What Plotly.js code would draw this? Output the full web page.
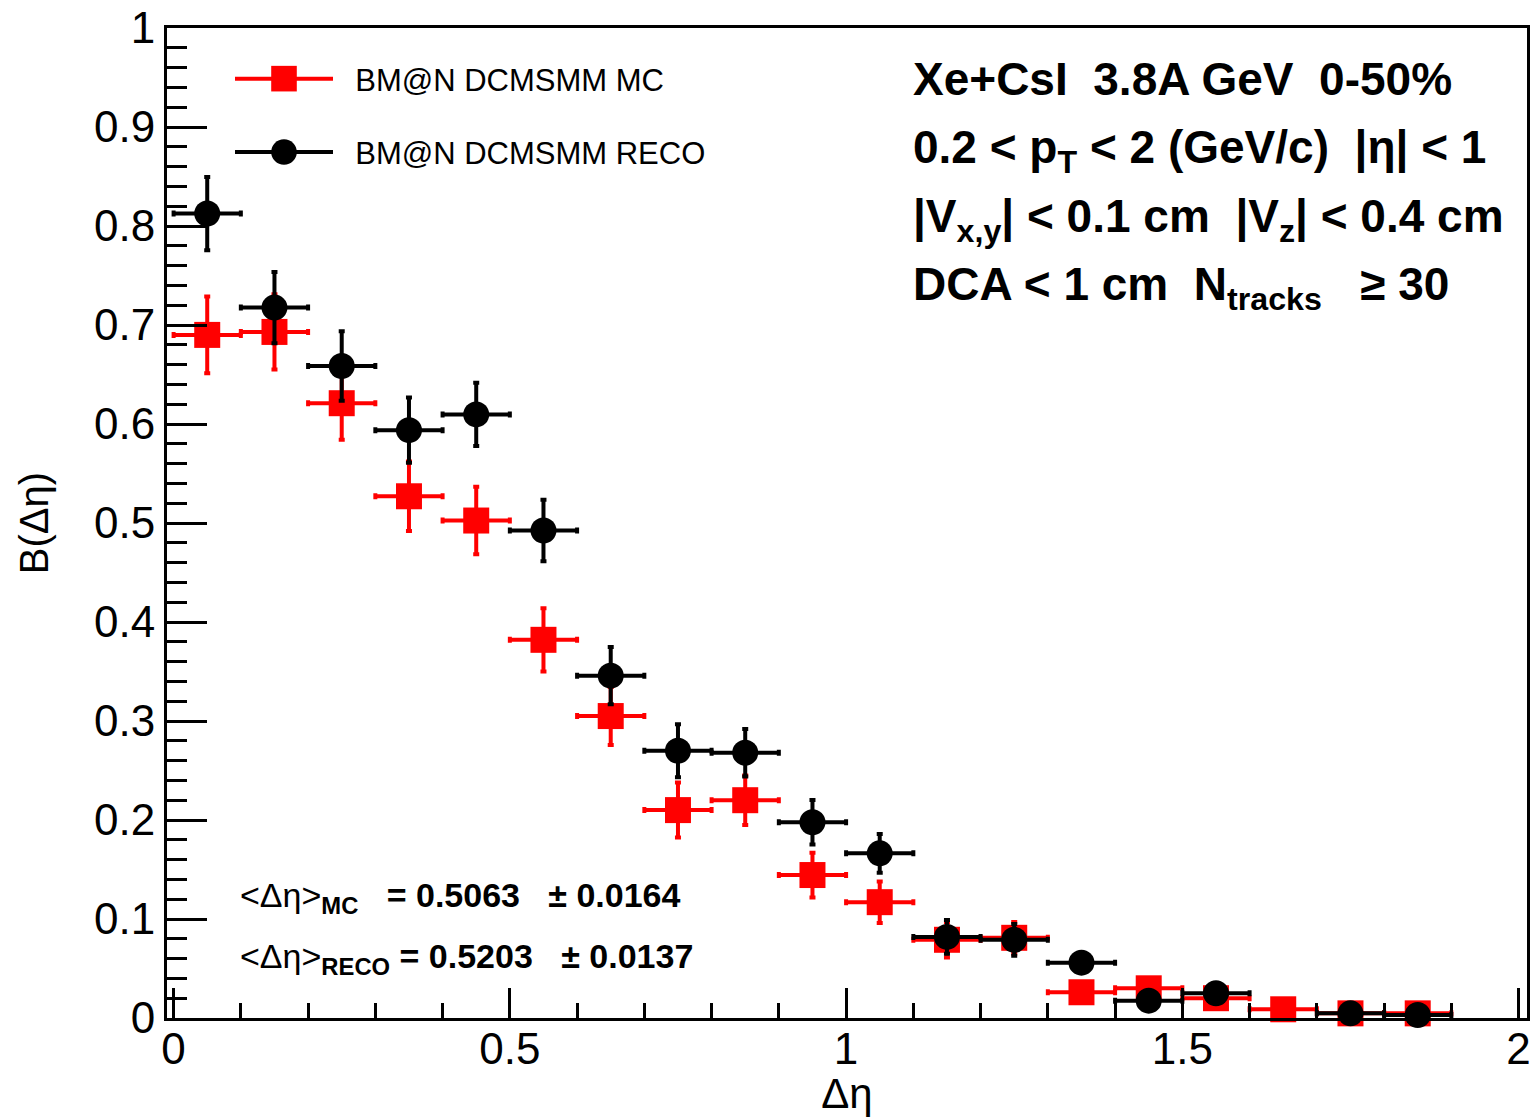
<!DOCTYPE html>
<html>
<head>
<meta charset="utf-8">
<script src="https://cdn.plot.ly/plotly-3.0.1.min.js"></script>
<style>
  html, body { margin: 0; padding: 0; background: #ffffff; }
  #chart { width: 1532px; height: 1117px; }
</style>
</head>
<body>
<div id="chart"></div>
<script>
// ---- data (bin centres, bin half-width, values, errors) ----
const binCenters = [0.05, 0.15, 0.25, 0.35, 0.45, 0.55, 0.65, 0.75, 0.85, 0.95,
                    1.05, 1.15, 1.25, 1.35, 1.45, 1.55, 1.65, 1.75, 1.85];
const binHalfWidth = 0.05;

const mcValues = [0.690, 0.693, 0.621, 0.527, 0.5025, 0.382, 0.305, 0.210, 0.220, 0.1444,
                  0.117, 0.079, 0.081, 0.026, 0.030, 0.020, 0.0088, 0.0047, 0.0047];
const mcErrors = [0.0387, 0.038, 0.037, 0.035, 0.034, 0.032, 0.0293, 0.0278, 0.025, 0.0226,
                  0.021, 0.018, 0.016, 0.008, 0.007, 0.006, 0.004, 0.003, 0.003];

const recoValues = [0.8126, 0.7176, 0.6586, 0.5938, 0.6097, 0.4924, 0.3458, 0.270, 0.268, 0.1977,
                    0.1663, 0.0819, 0.079, 0.0559, 0.0175, 0.025, null, 0.0047, 0.003];
const recoErrors = [0.037, 0.036, 0.035, 0.033, 0.032, 0.031, 0.029, 0.0268, 0.024, 0.0225,
                    0.0196, 0.017, 0.016, 0.009, 0.006, 0.006, null, 0.003, 0.002];

const seriesNames = ['BM@N DCMSMM MC', 'BM@N DCMSMM RECO'];

const xTickVals = [0, 0.5, 1, 1.5, 2];
const xTickText = ['0', '0.5', '1', '1.5', '2'];
const yTickVals = [0, 0.1, 0.2, 0.3, 0.4, 0.5, 0.6, 0.7, 0.8, 0.9, 1];
const yTickText = ['0', '0.1', '0.2', '0.3', '0.4', '0.5', '0.6', '0.7', '0.8', '0.9', '1'];

const infoLines = [
  'Xe+CsI\u00A0\u00A03.8A GeV\u00A0\u00A00-50%',
  '0.2 < p<sub>T</sub> < 2 (GeV/c)\u00A0\u00A0|η| < 1',
  '|V<sub>x,y</sub>| < 0.1 cm\u00A0\u00A0|V<sub>z</sub>| < 0.4 cm',
  'DCA < 1 cm\u00A0\u00A0N<sub>tracks</sub>\u00A0\u00A0\u00A0≥ 30'
];
const meanLines = [
  '<Δη><sub><b>MC</b></sub>\u00A0\u00A0\u00A0<b>= 0.5063\u00A0\u00A0\u00A0± 0.0164</b>',
  '<Δη><sub><b>RECO</b></sub><b> = 0.5203\u00A0\u00A0\u00A0± 0.0137</b>'
];

// ---- styling ----
const FONT = '"Liberation Sans", Arial, Helvetica, sans-serif';
const RED = '#ff0000';
const BLACK = '#000000';

function dataTrace(y, err, color, symbol, group) {
  return {
    type: 'scatter', mode: 'markers',
    x: binCenters, y: y,
    legendgroup: group, showlegend: false,
    marker: { symbol: symbol, size: 26, color: color, line: { width: 0 } },
    error_x: { type: 'constant', value: binHalfWidth, color: color, thickness: 4, width: 3 },
    error_y: { type: 'data', array: err, color: color, thickness: 4, width: 3 },
    cliponaxis: false,
    hoverinfo: 'x+y'
  };
}
function legendTrace(name, color, symbol, group) {
  return {
    type: 'scatter', mode: 'lines+markers',
    x: [null], y: [null], name: '\u00A0\u00A0' + name,
    legendgroup: group, showlegend: true,
    line: { color: color, width: 4 },
    marker: { symbol: symbol, size: 26, color: color, line: { width: 0 } }
  };
}

const traces = [
  dataTrace(mcValues, mcErrors, RED, 'square', 'mc'),
  dataTrace(recoValues, recoErrors, BLACK, 'circle', 'reco'),
  legendTrace(seriesNames[0], RED, 'square', 'mc'),
  legendTrace(seriesNames[1], BLACK, 'circle', 'reco')
];

const PL = 167, PR = 5, PT = 28, PB = 99, W = 1532, H = 1117;
const pw = W - PL - PR, ph = H - PT - PB;
function px(xpix) { return (xpix - PL) / pw; }
function py(ypix) { return (H - PB - ypix) / ph; }

const annotations = [];
const infoY = [79, 150, 219, 287];
infoLines.forEach((t, i) => {
  annotations.push({
    xref: 'paper', yref: 'paper', x: px(911), y: py(infoY[i]),
    xanchor: 'left', yanchor: 'middle', showarrow: false,
    text: '<b>' + t + '</b>',
    font: { family: FONT, size: 46, color: BLACK }
  });
});
const meanY = [897, 958];
meanLines.forEach((t, i) => {
  annotations.push({
    xref: 'paper', yref: 'paper', x: px(238), y: py(meanY[i]),
    xanchor: 'left', yanchor: 'middle', showarrow: false,
    text: t,
    font: { family: FONT, size: 34, color: BLACK }
  });
});

const axisCommon = {
  showline: true, linewidth: 3, linecolor: BLACK, mirror: true,
  showgrid: false, zeroline: false,
  ticks: 'inside', tickcolor: BLACK, tickwidth: 3,
  tickmode: 'array',
  tickfont: { family: FONT, size: 44, color: BLACK }
};

const layout = {
  width: W, height: H,
  margin: { l: PL, r: PR, t: PT, b: PB, pad: 0 },
  paper_bgcolor: '#ffffff', plot_bgcolor: '#ffffff',
  font: { family: FONT, color: BLACK },
  showlegend: true,
  legend: {
    x: px(230), y: py(52), xanchor: 'left', yanchor: 'top',
    bgcolor: 'rgba(0,0,0,0)', borderwidth: 0,
    font: { family: FONT, size: 31, color: BLACK },
    itemwidth: 98, traceorder: 'grouped', tracegroupgap: 30,
    itemclick: false, itemdoubleclick: false
  },
  xaxis: Object.assign({}, axisCommon, {
    range: [-0.0098, 2.0125],
    tickvals: xTickVals, ticktext: xTickText, ticklen: 30,
    ticklabelstandoff: -10,
    minor: { tickmode: 'linear', tick0: 0, dtick: 0.1, ticks: 'inside', ticklen: 15, tickwidth: 3, tickcolor: BLACK, showgrid: false },
    title: { text: 'Δη', font: { family: FONT, size: 42, color: BLACK }, standoff: 6 }
  }),
  yaxis: Object.assign({}, axisCommon, {
    range: [0, 1],
    tickvals: yTickVals, ticktext: yTickText, ticklen: 40,
    ticklabelstandoff: 0,
    minor: { tickmode: 'linear', tick0: 0, dtick: 0.02, ticks: 'inside', ticklen: 20, tickwidth: 3, tickcolor: BLACK, showgrid: false },
    title: { text: 'B(Δη)', font: { family: FONT, size: 40, color: BLACK }, standoff: 34 }
  }),
  annotations: annotations
};

Plotly.newPlot('chart', traces, layout, { displayModeBar: false, staticPlot: true }).then(function (gd) {
  // enlarge legend symbols to match the marker size used in the plot
  gd.querySelectorAll('.legend .legendpoints path.scatterpts').forEach(function (p) {
    p.setAttribute('transform', (p.getAttribute('transform') || '') + ' scale(1.6)');
  });
});
</script>
</body>
</html>
